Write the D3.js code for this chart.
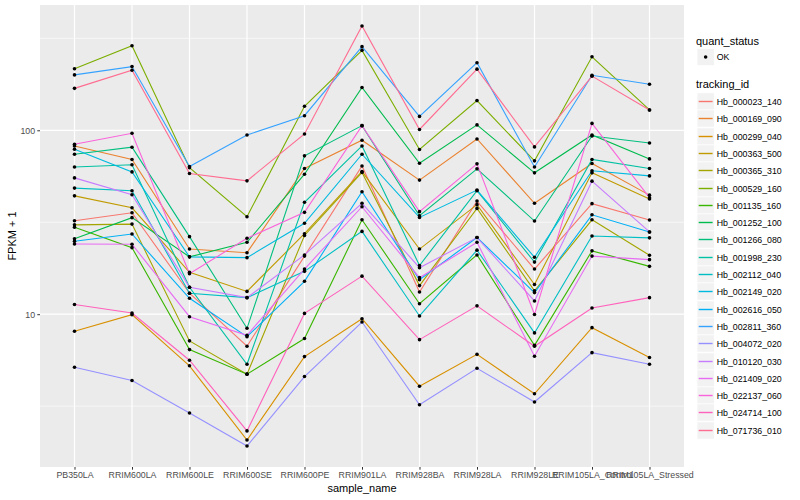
<!DOCTYPE html>
<html>
<head>
<meta charset="utf-8">
<script src="https://cdn.jsdelivr.net/npm/d3@7"></script>
<style>
body { margin: 0; background: #fff; }
text { font-family: "Liberation Sans", Arial, sans-serif; }
</style>
</head>
<body>
<svg id="chart" width="800" height="500"></svg>
<script>
// sample names along x
var samples = ["PB350LA", "RRIM600LA", "RRIM600LE", "RRIM600SE", "RRIM600PE", "RRIM901LA",
               "RRIM928BA", "RRIM928LA", "RRIM928LE", "RRIM105LA_Control", "RRIM105LA_Stressed"];

var genes = ["Hb_000023_140", "Hb_000169_090", "Hb_000299_040", "Hb_000363_500", "Hb_000365_310",
             "Hb_000529_160", "Hb_001135_160", "Hb_001252_100", "Hb_001266_080", "Hb_001998_230",
             "Hb_002112_040", "Hb_002149_020", "Hb_002616_050", "Hb_002811_360", "Hb_004072_020",
             "Hb_010120_030", "Hb_021409_020", "Hb_022137_060", "Hb_024714_100", "Hb_071736_010"];

// FPKM + 1, one array per gene, in sample order
var hb_000023_140 = [32.2, 35.6, 13.0, 6.7, 20.7, 64.0, 13.2, 41.2, 17.6, 39.9, 32.5];
var hb_000169_090 = [82.2, 69.4, 22.6, 21.6, 62.0, 88.3, 53.6, 89.7, 40.1, 66.0, 44.4];
var hb_000299_040 = [8.07, 9.94, 5.24, 2.07, 5.88, 9.45, 4.06, 6.05, 3.69, 8.45, 5.81];
var hb_000363_500 = [44.0, 37.9, 16.9, 13.3, 27.4, 59.7, 22.6, 39.4, 14.5, 58.7, 42.3];
var hb_000365_310 = [30.6, 30.9, 7.16, 4.72, 26.8, 59.0, 14.3, 37.6, 13.4, 32.6, 20.9];
var hb_000529_160 = [216, 288, 62.6, 33.9, 135, 272, 78.6, 145, 68.2, 251, 129];
var hb_001135_160 = [29.7, 23.0, 6.42, 4.72, 7.37, 32.6, 11.4, 21.0, 6.77, 22.1, 18.2];
var hb_001252_100 = [25.7, 33.5, 20.5, 24.6, 57.7, 171, 66.2, 107, 58.7, 94.3, 69.9];
var hb_001266_080 = [74.1, 80.9, 26.4, 8.38, 72.6, 106, 34.3, 61.7, 32.1, 93.1, 85.3];
var hb_001998_230 = [63.2, 64.9, 14.0, 5.34, 40.6, 82.2, 18.4, 46.9, 19.2, 69.4, 62.0];
var hb_002112_040 = [48.5, 46.9, 13.0, 12.3, 17.1, 28.2, 9.78, 22.3, 7.91, 26.6, 26.0];
var hb_002149_020 = [78.9, 59.4, 20.5, 20.3, 31.2, 74.1, 33.6, 47.3, 20.4, 60.2, 56.5];
var hb_002616_050 = [24.9, 27.3, 12.2, 7.55, 15.1, 46.3, 15.4, 26.1, 13.1, 34.7, 28.0];
var hb_002811_360 = [200, 222, 63.6, 94.3, 120, 285, 119, 233, 63.2, 199, 178];
var hb_004072_020 = [5.15, 4.36, 2.90, 1.92, 4.58, 9.07, 3.22, 5.08, 3.33, 6.18, 5.34];
var hb_010120_030 = [55.1, 44.6, 14.0, 12.3, 21.0, 40.1, 17.9, 26.1, 11.8, 52.9, 28.0];
var hb_021409_020 = [24.1, 24.0, 9.69, 7.68, 17.6, 38.4, 15.8, 24.6, 5.91, 20.7, 19.8];
var hb_022137_060 = [84.0, 96.3, 16.6, 25.9, 35.8, 106, 36.1, 65.7, 9.97, 109, 43.0];
var hb_024714_100 = [11.3, 10.15, 5.62, 2.32, 10.1, 16.1, 7.27, 11.1, 6.69, 10.8, 12.3];
var hb_071736_010 = [169, 212, 58.2, 53.1, 95.5, 369, 101, 215, 81.2, 197, 129];

var yTicks = [10, 100];

var seriesValues = [hb_000023_140, hb_000169_090, hb_000299_040, hb_000363_500, hb_000365_310,
                    hb_000529_160, hb_001135_160, hb_001252_100, hb_001266_080, hb_001998_230,
                    hb_002112_040, hb_002149_020, hb_002616_050, hb_002811_360, hb_004072_020,
                    hb_010120_030, hb_021409_020, hb_022137_060, hb_024714_100, hb_071736_010];

// ggplot hue palette for 20 levels
var palette = ["#F8766D", "#EA8331", "#D89000", "#C09B00", "#A3A500", "#7CAE00", "#39B600", "#00BB4E",
               "#00BF7D", "#00C1A3", "#00BFC4", "#00BAE0", "#00B0F6", "#35A2FF", "#9590FF", "#C77CFF",
               "#E76BF3", "#FA62DB", "#FF62BC", "#FF6C91"];

(function () {
    var series = genes.map(function (g, i) {
        return {id: g, values: seriesValues[i], color: palette[i]};
    });

    var svg = d3.select("#chart");
    var pLeft = 40, pRight = 684, pTop = 5, pBottom = 467;

    var x = d3.scalePoint().domain(samples).range([pLeft, pRight]).padding(0.6);

    var all = d3.merge(seriesValues);
    var lo = Math.log10(d3.min(all)), hi = Math.log10(d3.max(all)), pad = (hi - lo) * 0.05;
    var y = d3.scaleLog().domain([Math.pow(10, lo - pad), Math.pow(10, hi + pad)]).range([pBottom, pTop]);

    // panel
    svg.append("rect").attr("x", pLeft).attr("y", pTop)
        .attr("width", pRight - pLeft).attr("height", pBottom - pTop).attr("fill", "#EBEBEB");

    var minor = [];
    for (var k = -1; k < 4; k++) {
        var v = Math.pow(10, k + 0.5);
        if (v > y.domain()[0] && v < y.domain()[1]) minor.push(v);
    }
    svg.append("g").selectAll("line").data(minor).join("line")
        .attr("x1", pLeft).attr("x2", pRight)
        .attr("y1", function (d) { return y(d); }).attr("y2", function (d) { return y(d); })
        .attr("stroke", "#fff").attr("stroke-width", 0.6);
    svg.append("g").selectAll("line").data(yTicks).join("line")
        .attr("x1", pLeft).attr("x2", pRight)
        .attr("y1", function (d) { return y(d); }).attr("y2", function (d) { return y(d); })
        .attr("stroke", "#fff").attr("stroke-width", 1.2);
    svg.append("g").selectAll("line").data(samples).join("line")
        .attr("x1", function (d) { return x(d); }).attr("x2", function (d) { return x(d); })
        .attr("y1", pTop).attr("y2", pBottom)
        .attr("stroke", "#fff").attr("stroke-width", 1.2);

    // lines
    var line = d3.line()
        .x(function (d, i) { return x(samples[i]); })
        .y(function (d) { return y(d); });

    svg.append("g").selectAll("path").data(series).join("path")
        .attr("d", function (s) { return line(s.values); })
        .attr("fill", "none")
        .attr("stroke", function (s) { return s.color; })
        .attr("stroke-width", 1.1);

    // points
    var pts = [];
    series.forEach(function (s) {
        s.values.forEach(function (v, i) { pts.push({sample: samples[i], value: v}); });
    });
    svg.append("g").selectAll("circle").data(pts).join("circle")
        .attr("cx", function (d) { return x(d.sample); })
        .attr("cy", function (d) { return y(d.value); })
        .attr("r", 1.8)
        .attr("fill", "#000");

    // axes
    var yAxis = svg.append("g").attr("transform", "translate(" + pLeft + ",0)")
        .call(d3.axisLeft(y).tickValues(yTicks).tickFormat(d3.format("d")).tickSize(2.7).tickPadding(2.2));
    var xAxis = svg.append("g").attr("transform", "translate(0," + pBottom + ")")
        .call(d3.axisBottom(x).tickSize(2.7).tickPadding(2.2));
    [yAxis, xAxis].forEach(function (a) {
        a.select(".domain").remove();
        a.selectAll(".tick line").attr("stroke", "#333").attr("stroke-width", 1);
        a.selectAll(".tick text").attr("fill", "#4D4D4D").style("font-size", "8.8px")
            .style("font-family", "'Liberation Sans', Arial, sans-serif");
    });

    svg.append("text").attr("x", (pLeft + pRight) / 2).attr("y", 492)
        .attr("text-anchor", "middle").style("font-size", "11px").text("sample_name");
    svg.append("text").attr("transform", "translate(16," + (pTop + pBottom) / 2 + ") rotate(-90)")
        .attr("text-anchor", "middle").style("font-size", "11px").text("FPKM + 1");

    // legend
    var lx = 696, keyW = 17.3;
    var legend = svg.append("g");
    legend.append("text").attr("x", lx).attr("y", 44.5).style("font-size", "11px").text("quant_status");
    legend.append("rect").attr("x", lx + 1).attr("y", 57 - keyW / 2).attr("width", keyW).attr("height", keyW)
        .attr("fill", "#F2F2F2").attr("stroke", "#fff").attr("stroke-width", 0.8);
    legend.append("circle").attr("cx", lx + 1 + keyW / 2).attr("cy", 57).attr("r", 1.8).attr("fill", "#000");
    legend.append("text").attr("x", lx + 20.7).attr("y", 60.2).style("font-size", "8.8px").text("OK");

    legend.append("text").attr("x", lx).attr("y", 88).style("font-size", "11px").text("tracking_id");
    var keys = legend.append("g").selectAll("g").data(series).join("g")
        .attr("transform", function (d, i) {
            return "translate(" + (lx + 1) + "," + (Math.round(101 + i * keyW) + 0.5) + ")";
        });
    keys.append("rect").attr("x", 0).attr("y", -keyW / 2).attr("width", keyW).attr("height", keyW)
        .attr("fill", "#F2F2F2").attr("stroke", "#fff").attr("stroke-width", 0.8);
    keys.append("line").attr("x1", 1.7).attr("x2", keyW - 1.7).attr("y1", 0).attr("y2", 0)
        .attr("stroke", function (d) { return d.color; }).attr("stroke-width", 1.4);
    keys.append("text").attr("x", 19.7).attr("y", 3.2).style("font-size", "8.8px")
        .text(function (d) { return d.id; });
})();
</script>
</body>
</html>
